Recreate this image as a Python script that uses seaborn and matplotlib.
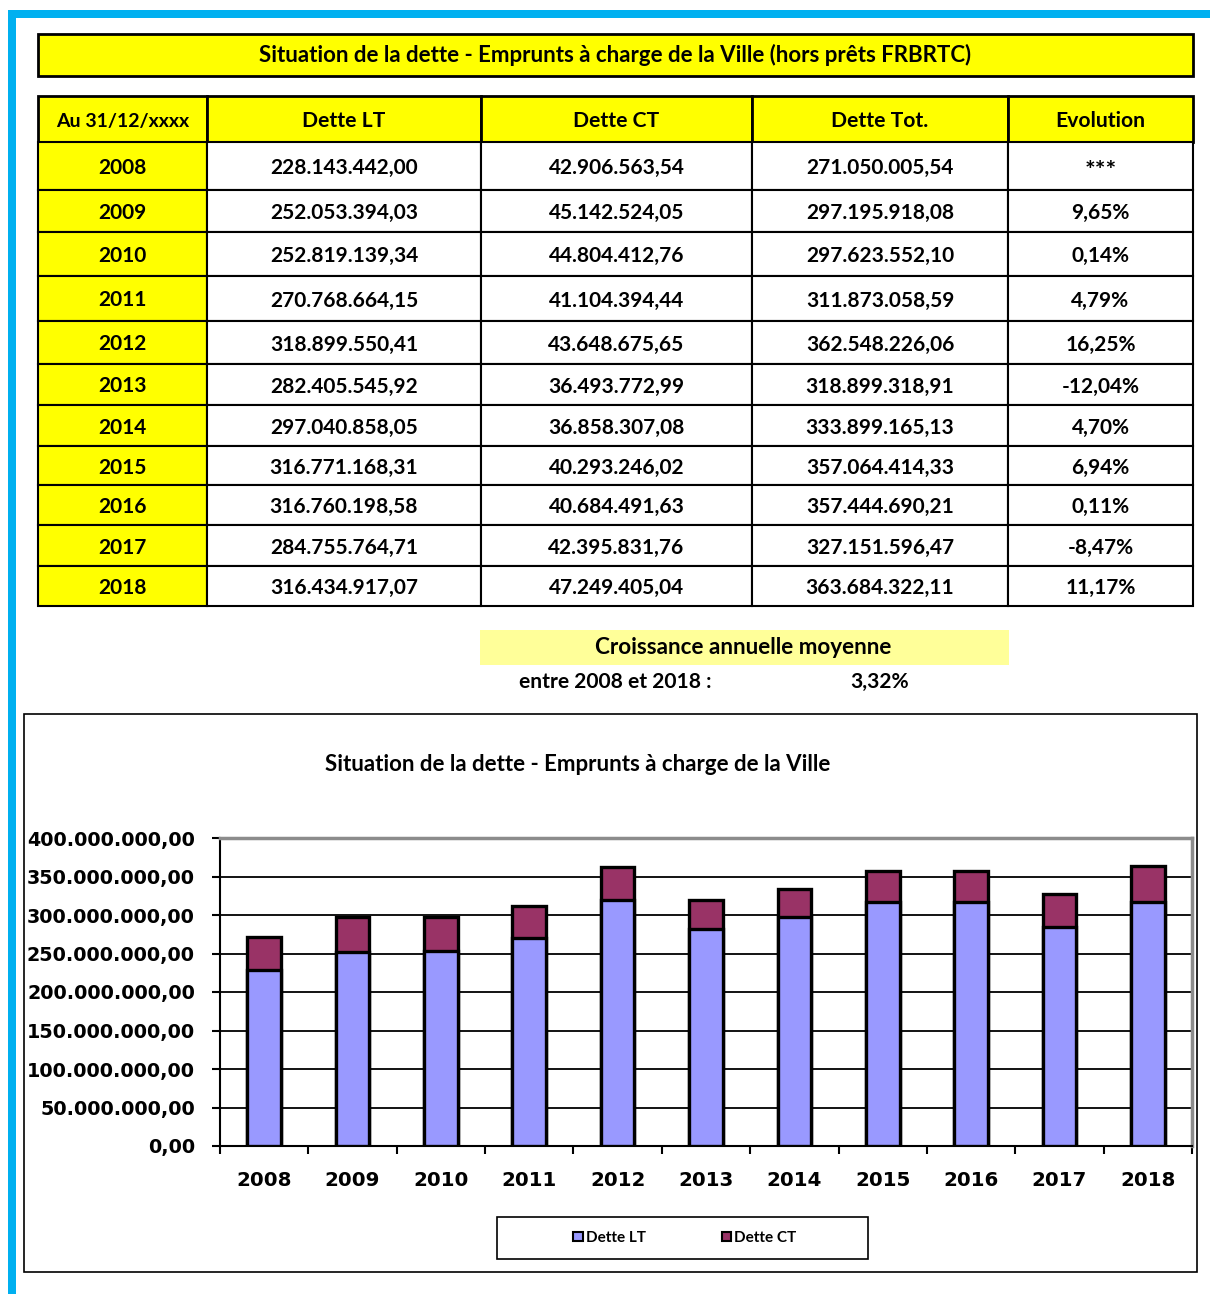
import numpy as np
import pandas as pd
import matplotlib
matplotlib.use("Agg")
import matplotlib.pyplot as plt
from matplotlib.patches import Rectangle, Patch
from matplotlib.ticker import FuncFormatter, FixedLocator
import seaborn as sns

years = ["2008", "2009", "2010", "2011", "2012", "2013", "2014", "2015", "2016", "2017", "2018"]
dette_lt = [228143442.00, 252053394.03, 252819139.34, 270768664.15, 318899550.41, 282405545.92,
            297040858.05, 316771168.31, 316760198.58, 284755764.71, 316434917.07]
dette_ct = [42906563.54, 45142524.05, 44804412.76, 41104394.44, 43648675.65, 36493772.99,
            36858307.08, 40293246.02, 40684491.63, 42395831.76, 47249405.04]
dette_tot = [271050005.54, 297195918.08, 297623552.10, 311873058.59, 362548226.06, 318899318.91,
             333899165.13, 357064414.33, 357444690.21, 327151596.47, 363684322.11]
evolution = [None, 9.65, 0.14, 4.79, 16.25, -12.04, 4.70, 6.94, 0.11, -8.47, 11.17]
headers = ["Au 31/12/xxxx", "Dette LT", "Dette CT", "Dette Tot.", "Evolution"]
table_title = "Situation de la dette - Emprunts à charge de la Ville (hors prêts FRBRTC)"
chart_title = "Situation de la dette - Emprunts à charge de la Ville"
croissance = 3.32

YELLOW = "#FFFF00"
LT_COL = "#9999FF"
CT_COL = "#993366"
FONT = "Lato"


def fr_num(v):
    s = f"{v:,.2f}"
    return s.replace(",", " ").replace(".", ",").replace(" ", ".")


def fr_pct(v):
    return "***" if v is None else f"{v:.2f}%".replace(".", ",")


W, H = 1210, 1294
fig = plt.figure(figsize=(W / 100, H / 100), dpi=100)


def fx(x):
    return x / W


def fy(y):
    return 1 - y / H


def box(x0, y0, x1, y1, fc, ec="black", lw=1.5, z=1):
    r = Rectangle((fx(x0), fy(y1)), fx(x1) - fx(x0), fy(y0) - fy(y1),
                  transform=fig.transFigure, facecolor=fc, edgecolor=ec,
                  linewidth=lw, zorder=z)
    fig.add_artist(r)


def txt(x, y, s, size=15, ha="center", weight="bold"):
    fig.text(fx(x), fy(y), s, ha=ha, va="center", fontsize=size,
             fontweight=weight, family=FONT)


# cyan page border
box(8, 10, W + 5, 18, "#00B0F0", ec="none", lw=0)
box(8, 10, 16, H + 5, "#00B0F0", ec="none", lw=0)

# table title
box(38, 34, 1193, 76, YELLOW, lw=2)
txt(615, 55, table_title, size=16)

# table
cols = [38, 207, 481, 752, 1008, 1193]
rows = [96, 142, 190, 232, 276, 321, 364, 405, 446, 485, 525, 566, 606]
for i, h in enumerate(headers):
    box(cols[i], rows[0], cols[i + 1], rows[1], YELLOW, lw=2)
    txt((cols[i] + cols[i + 1]) / 2, (rows[0] + rows[1]) / 2 + 2, h,
        size=14 if i == 0 else 15.2)

for r, yr in enumerate(years):
    y0, y1 = rows[r + 1], rows[r + 2]
    cells = [yr, fr_num(dette_lt[r]), fr_num(dette_ct[r]), fr_num(dette_tot[r]), fr_pct(evolution[r])]
    for i, c in enumerate(cells):
        box(cols[i], y0, cols[i + 1], y1, YELLOW if i == 0 else "white", lw=1.5)
        yy = (y0 + y1) / 2 + 2
        if c == "***":
            yy += 3
        txt((cols[i] + cols[i + 1]) / 2, yy, c, size=15 if c != "***" else 18)

# croissance annuelle moyenne
box(480, 630, 1009, 665, "#FFFF99", ec="none", lw=0)
txt(743, 648, "Croissance annuelle moyenne", size=16.2)
txt(615, 682, "entre 2008 et 2018 :", size=15.1)
txt(880, 682, fr_pct(croissance), size=15.1)

# chart frame
box(24, 714, 1197, 1272, "white", lw=1.2, z=-1)
txt(578, 765, chart_title, size=16)

ax = fig.add_axes([fx(220), fy(1146), fx(1192) - fx(220), fy(838) - fy(1146)])
df = pd.DataFrame({"annee": years, "lt": dette_lt, "ct": dette_ct})
df["tot"] = df["lt"] + df["ct"]

sns.barplot(data=df, x="annee", y="tot", color=CT_COL, saturation=1, width=0.38,
            edgecolor="black", linewidth=2.4, ax=ax, zorder=3)
sns.barplot(data=df, x="annee", y="lt", color=LT_COL, saturation=1, width=0.38,
            edgecolor="black", linewidth=2.4, ax=ax, zorder=3)

ax.set_xlim(-0.5, len(years) - 0.5)
ax.set_ylim(0, 400_000_000)
ax.yaxis.set_major_locator(FixedLocator(np.arange(0, 400_000_001, 50_000_000)))
ax.yaxis.set_major_formatter(FuncFormatter(lambda v, p: fr_num(v)))
ax.yaxis.grid(True, color="black", linewidth=1.3, zorder=0)
ax.set_axisbelow(True)
ax.set_xlabel("")
ax.set_ylabel("")

ax.xaxis.set_minor_locator(FixedLocator(np.arange(-0.5, len(years), 1.0)))
ax.tick_params(axis="x", which="major", length=0, pad=18)
ax.tick_params(axis="x", which="minor", length=6, width=1.5, direction="out")
ax.tick_params(axis="y", length=6, width=1.5, direction="out", pad=12)
for lab in ax.get_xticklabels():
    lab.set_fontsize(14.3)
    lab.set_fontweight("bold")
    lab.set_family("DejaVu Sans")
for lab in ax.get_yticklabels():
    lab.set_fontsize(13.8)
    lab.set_fontweight("bold")
    lab.set_family("DejaVu Sans")
    lab.set_horizontalalignment("right")

ax.spines["left"].set_color("black")
ax.spines["left"].set_linewidth(1.5)
ax.spines["bottom"].set_color("black")
ax.spines["bottom"].set_linewidth(1.5)
ax.spines["top"].set_color("#8C8C8C")
ax.spines["top"].set_linewidth(2.5)
ax.spines["right"].set_color("#8C8C8C")
ax.spines["right"].set_linewidth(2.5)

# legend
box(497, 1217, 868, 1259, "white", lw=1.2)
handles = [Patch(facecolor=LT_COL, edgecolor="black", linewidth=1.5),
           Patch(facecolor=CT_COL, edgecolor="black", linewidth=1.5)]
fig.legend(handles, ["Dette LT", "Dette CT"], loc="center",
           bbox_to_anchor=(fx(685), fy(1238)), ncol=2, frameon=False,
           handlelength=0.6, handleheight=0.6, handletextpad=0.2,
           columnspacing=5.0, prop={"family": FONT, "weight": "bold", "size": 11})

fig.savefig("out.png", dpi=100)
